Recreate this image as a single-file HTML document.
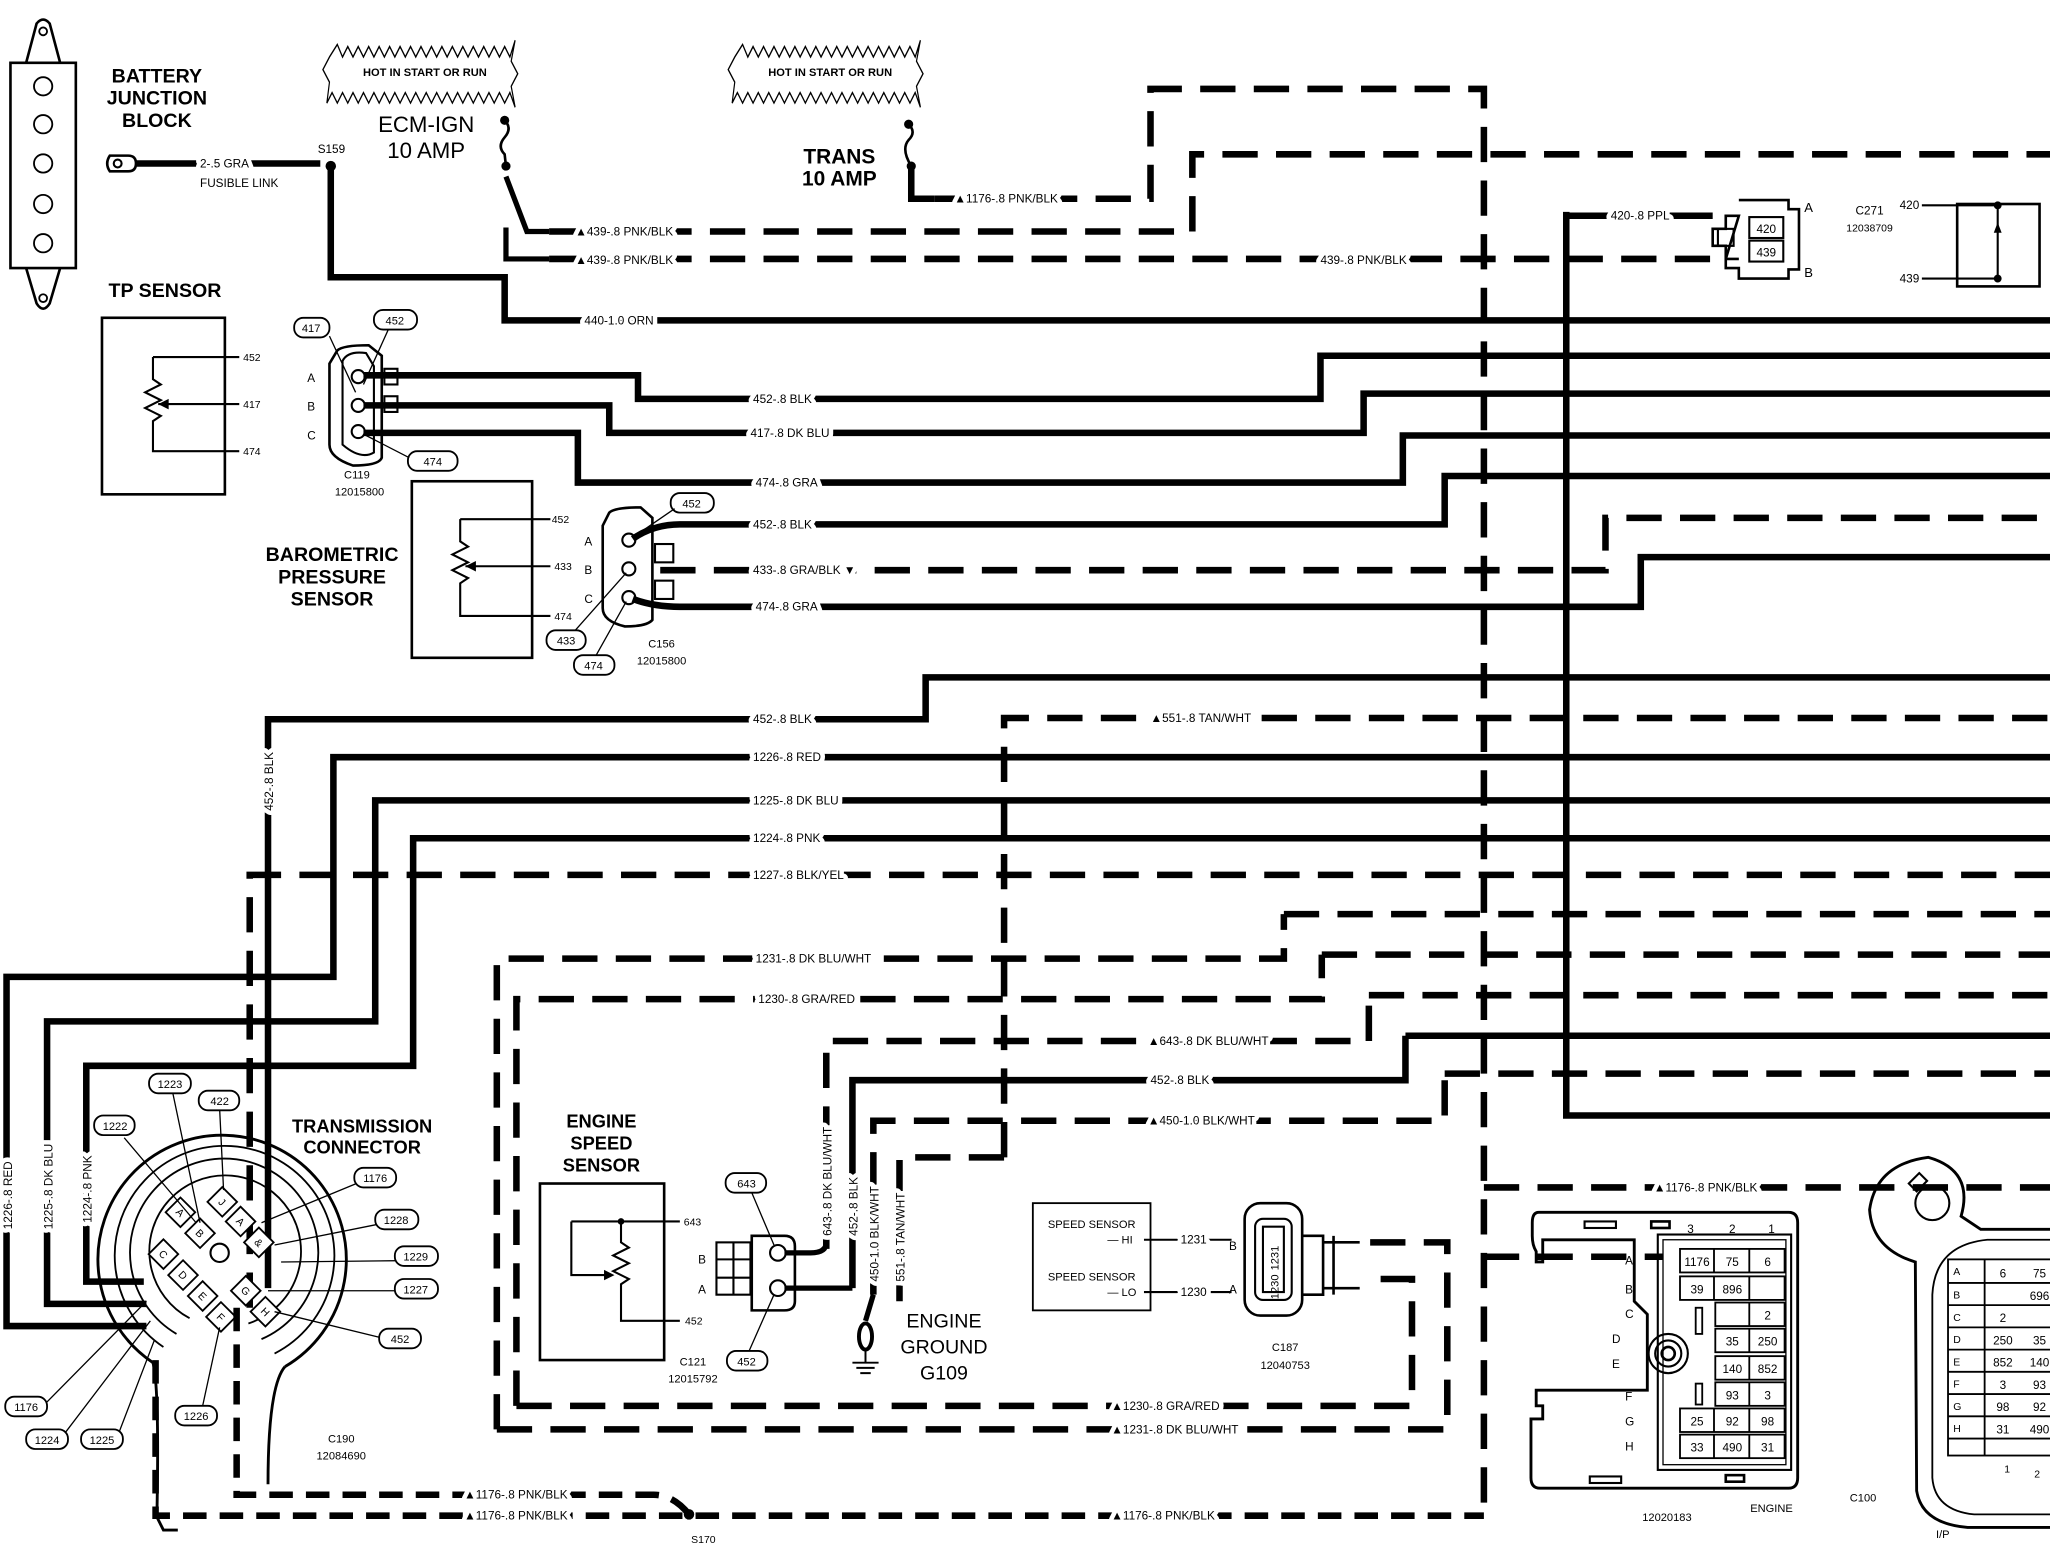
<!DOCTYPE html>
<html><head><meta charset="utf-8"><style>
html,body{margin:0;padding:0;background:#fff;}
svg{display:block;}
text{font-family:"Liberation Sans",sans-serif;fill:#000;}
.w{fill:none;stroke:#000;stroke-width:5;stroke-linejoin:miter;}
.d{fill:none;stroke:#000;stroke-width:5;stroke-dasharray:27 14;}
.t{fill:none;stroke:#000;stroke-width:1.6;}
.lb{font-size:9px;paint-order:stroke;stroke:#fff;stroke-width:7px;stroke-linejoin:round;}
.sm{font-size:9px;}
.b{font-weight:bold;}
.bub{fill:#fff;stroke:#000;stroke-width:1.4;}
</style></head><body>
<svg width="2050" height="1568" viewBox="0 0 1568 1199" preserveAspectRatio="none" xmlns="http://www.w3.org/2000/svg">
<rect width="1568" height="1199" fill="#fff"/>

<!-- Battery junction block -->
<path class="t" style="stroke-width:2" d="M8,48 L58,48 L58,205 L8,205 Z M20,48 L28,18 Q33,12 38,18 L46,48 M20,205 L28,232 Q33,240 38,232 L46,205"/>
<g class="t" style="stroke-width:1.4"><circle cx="33" cy="66" r="7"/><circle cx="33" cy="95" r="7"/><circle cx="33" cy="125" r="7"/><circle cx="33" cy="156" r="7"/><circle cx="33" cy="186" r="7"/><circle cx="33" cy="24" r="3"/><circle cx="33" cy="228" r="3"/></g>
<g class="b" font-size="15" text-anchor="middle"><text x="120" y="63">BATTERY</text><text x="120" y="80">JUNCTION</text><text x="120" y="97">BLOCK</text></g>
<text class="b" x="83" y="227" font-size="15">TP SENSOR</text>

<!-- fusible link -->
<path class="t" style="stroke-width:2" d="M84,119 h14 q6,0 6,6 q0,6 -6,6 h-14 q-4,-6 0,-12Z"/>
<circle cx="90" cy="125" r="3" class="t"/>
<path class="w" d="M104,125 H245"/>
<text class="lb" x="153" y="128">2-.5 GRA</text>
<text class="sm" x="153" y="143" font-size="8">FUSIBLE LINK</text>
<text class="sm" x="243" y="117" font-size="8">S159</text>
<circle cx="253" cy="127" r="4"/>
<path class="w" d="M253,127 V212 H386 V245 H1568"/>
<text class="lb" x="447" y="248">440-1.0 ORN</text>

<!-- hot bubbles -->
<g transform="translate(0,34) scale(1,1.6) translate(0,-37)">
<path class="t" style="stroke-width:0.9" d="M258,37 l4,6 l4,-5 l4,5 l4,-5 l4,5 l4,-5 l4,5 l4,-5 l4,5 l4,-5 l4,5 l4,-5 l4,5 l4,-5 l4,5 l4,-5 l4,5 l4,-5 l4,5 l4,-5 l4,5 l4,-5 l4,5 l4,-5 l4,5 l4,-5 l4,5 l4,-5 l4,5 l4,-5 l4,5 l4,-5 l4,5 l4,-8 l-3,10 l5,6 l-5,6 l3,10 l-4,-7 l-4,5 l-4,-5 l-4,5 l-4,-5 l-4,5 l-4,-5 l-4,5 l-4,-5 l-4,5 l-4,-5 l-4,5 l-4,-5 l-4,5 l-4,-5 l-4,5 l-4,-5 l-4,5 l-4,-5 l-4,5 l-4,-5 l-4,5 l-4,-5 l-4,5 l-4,-5 l-4,5 l-4,-5 l-4,5 l-4,-5 l-4,5 l-4,-5 l-4,5 l-4,-5 l-4,5 l-4,-5 l-4,5 l2,-10 l-5,-6 l5,-6 Z"/>
<path class="t" style="stroke-width:0.9" d="M568,37 l4,6 l4,-5 l4,5 l4,-5 l4,5 l4,-5 l4,5 l4,-5 l4,5 l4,-5 l4,5 l4,-5 l4,5 l4,-5 l4,5 l4,-5 l4,5 l4,-5 l4,5 l4,-5 l4,5 l4,-5 l4,5 l4,-5 l4,5 l4,-5 l4,5 l4,-5 l4,5 l4,-5 l4,5 l4,-5 l4,5 l4,-8 l-3,10 l5,6 l-5,6 l3,10 l-4,-7 l-4,5 l-4,-5 l-4,5 l-4,-5 l-4,5 l-4,-5 l-4,5 l-4,-5 l-4,5 l-4,-5 l-4,5 l-4,-5 l-4,5 l-4,-5 l-4,5 l-4,-5 l-4,5 l-4,-5 l-4,5 l-4,-5 l-4,5 l-4,-5 l-4,5 l-4,-5 l-4,5 l-4,-5 l-4,5 l-4,-5 l-4,5 l-4,-5 l-4,5 l-4,-5 l-4,5 l-4,-5 l-4,5 l2,-10 l-5,-6 l5,-6 Z"/>
</g>
<text x="325" y="58" font-size="8.5" text-anchor="middle" class="b">HOT IN START OR RUN</text>
<text x="635" y="58" font-size="8.5" text-anchor="middle" class="b">HOT IN START OR RUN</text>

<!-- ECM-IGN fuse -->
<text x="326" y="101" font-size="17" text-anchor="middle">ECM-IGN</text>
<text x="326" y="121" font-size="17" text-anchor="middle">10 AMP</text>
<circle cx="386" cy="92" r="3.5"/><circle cx="387" cy="127" r="3.5"/>
<path class="t" style="stroke-width:2" d="M386,92 q6,6 0,13 q-6,7 0,13 l1,9"/>
<path class="w" style="stroke-width:4" d="M387,135 L403,177 H420"/>
<path class="w" style="stroke-width:4" d="M387,174 V198 H420"/>
<path class="d" d="M420,177 H912 V118 H1568"/>
<path class="d" d="M420,198 H1310"/>
<text class="lb" x="440" y="180">▲439-.8 PNK/BLK</text>
<text class="lb" x="440" y="202">▲439-.8 PNK/BLK</text>
<text class="lb" x="1010" y="202">439-.8 PNK/BLK</text>

<!-- TRANS fuse -->
<text class="b" x="642" y="125" font-size="16" text-anchor="middle">TRANS</text>
<text class="b" x="642" y="142" font-size="16" text-anchor="middle">10 AMP</text>
<circle cx="695" cy="95" r="3.5"/><circle cx="697" cy="127" r="3.5"/>
<path class="t" style="stroke-width:2" d="M695,95 q6,6 0,12 q-6,7 2,20"/>
<path class="w" d="M697,127 V152 H715"/>
<path class="d" d="M715,152 H880 V68 H1135 V1162"/>
<text class="lb" x="730" y="155">▲1176-.8 PNK/BLK</text>

<!-- C271 -->
<path class="w" d="M1198,165 H1310"/>
<text class="lb" x="1232" y="168">420-.8 PPL</text>
<path class="w" d="M1198,162 V853 H1568"/>
<path class="t" style="stroke-width:2" d="M1330,153 H1368 V160 H1376 V206 H1368 V213 H1330 V205 H1320 V198 H1330 M1320,198 V188 H1310 V175 H1320 V165 H1330 Z"/>
<rect x="1314" y="175" width="12" height="13" class="t"/>
<rect x="1338" y="166" width="26" height="16" class="t"/><rect x="1338" y="184" width="26" height="16" class="t"/>
<text x="1351" y="178" font-size="9" text-anchor="middle">420</text><text x="1351" y="196" font-size="9" text-anchor="middle">439</text>
<text x="1380" y="162" font-size="10">A</text><text x="1380" y="212" font-size="10">B</text>
<text x="1430" y="164" font-size="9" text-anchor="middle">C271</text><text x="1430" y="177" font-size="8" text-anchor="middle">12038709</text>
<rect x="1497" y="156" width="63" height="63" class="t" style="stroke-width:2"/>
<text x="1453" y="160" font-size="9">420</text><text x="1453" y="216" font-size="9">439</text>
<path class="t" d="M1470,157 H1528 V213 H1470"/><circle cx="1528" cy="157" r="3"/><circle cx="1528" cy="213" r="3"/>
<path d="M1528,170 l-3,8 h6z"/>

<!-- TP sensor -->
<rect x="78" y="243" width="94" height="135" class="t" style="stroke-width:2"/>
<path class="t" d="M117,273 H183 M117,273 V290 l6,4 l-12,6 l12,6 l-12,6 l12,6 l-6,4 V345 H183 M121,309 H183"/>
<path d="M121,309 l8,-4 v8z"/>
<text x="186" y="276" font-size="8">452</text><text x="186" y="312" font-size="8">417</text><text x="186" y="348" font-size="8">474</text>
<!-- C119 -->
<path class="t" style="stroke-width:2" d="M258,268 Q262,264 282,264 L292,272 V350 Q290,356 270,356 Q252,350 252,340 V278 Z"/>
<path class="t" d="M262,276 Q266,268 280,270 L286,280 V346 Q276,352 262,340 Z"/>
<circle cx="274" cy="288" r="5" class="t"/><circle cx="274" cy="310" r="5" class="t"/><circle cx="274" cy="330" r="5" class="t"/>
<rect x="294" y="282" width="10" height="12" class="t"/><rect x="294" y="303" width="10" height="12" class="t"/>
<text x="235" y="292" font-size="9">A</text><text x="235" y="314" font-size="9">B</text><text x="235" y="336" font-size="9">C</text>
<rect x="225" y="243" width="27" height="15" rx="7" class="bub"/><text x="238" y="254" font-size="8.5" text-anchor="middle">417</text>
<rect x="286" y="237" width="33" height="15" rx="7" class="bub"/><text x="302" y="248" font-size="8.5" text-anchor="middle">452</text>
<rect x="312" y="345" width="38" height="15" rx="7" class="bub"/><text x="331" y="356" font-size="8.5" text-anchor="middle">474</text>
<path class="t" style="stroke-width:1" d="M252,257 L272,300 M297,252 L278,294 M313,350 L280,333"/>
<text x="273" y="366" font-size="8.5" text-anchor="middle">C119</text><text x="275" y="379" font-size="8.5" text-anchor="middle">12015800</text>
<path class="w" d="M278,287 H488 V305 H1010 V272 H1568"/>
<path class="w" d="M278,310 H466 V331 H1043 V301 H1568"/>
<path class="w" d="M278,331 H442 V369 H1073 V333 H1568"/>
<text class="lb" x="576" y="308">452-.8 BLK</text>
<text class="lb" x="574" y="334">417-.8 DK BLU</text>
<text class="lb" x="578" y="372">474-.8 GRA</text>

<!-- Barometric -->
<g class="b" font-size="15" text-anchor="middle"><text x="254" y="429">BAROMETRIC</text><text x="254" y="446">PRESSURE</text><text x="254" y="463">SENSOR</text></g>
<rect x="315" y="368" width="92" height="135" class="t" style="stroke-width:2"/>
<path class="t" d="M352,397 H421 M352,397 V414 l6,4 l-12,6 l12,6 l-12,6 l12,6 l-6,4 V471 H421 M356,433 H421"/>
<path d="M356,433 l8,-4 v8z"/>
<text x="422" y="400" font-size="8">452</text><text x="424" y="436" font-size="8">433</text><text x="424" y="474" font-size="8">474</text>
<path class="t" style="stroke-width:2" d="M466,392 Q470,388 490,388 L499,396 V474 Q495,479 478,479 Q461,475 461,465 V402 Z"/>
<circle cx="481" cy="413" r="5" class="t"/><circle cx="481" cy="435" r="5" class="t"/><circle cx="481" cy="457" r="5" class="t"/>
<rect x="501" y="416" width="14" height="14" class="t"/><rect x="501" y="444" width="14" height="14" class="t"/>
<text x="447" y="417" font-size="9">A</text><text x="447" y="439" font-size="9">B</text><text x="447" y="461" font-size="9">C</text>
<rect x="513" y="377" width="33" height="15" rx="7" class="bub"/><text x="529" y="388" font-size="8.5" text-anchor="middle">452</text>
<rect x="418" y="482" width="30" height="15" rx="7" class="bub"/><text x="433" y="493" font-size="8.5" text-anchor="middle">433</text>
<rect x="439" y="501" width="31" height="15" rx="7" class="bub"/><text x="454" y="512" font-size="8.5" text-anchor="middle">474</text>
<path class="t" style="stroke-width:1" d="M516,389 L484,411 M440,482 L479,438 M456,501 L479,460"/>
<text x="506" y="495" font-size="8.5" text-anchor="middle">C156</text><text x="506" y="508" font-size="8.5" text-anchor="middle">12015800</text>
<path class="w" d="M484,412 Q500,401 520,401 H1105 V364 H1568"/>
<path class="d" d="M505,436 H1228 V396 H1568"/>
<path class="w" d="M484,458 Q500,464 520,464 H1255 V426 H1568"/>
<text class="lb" x="576" y="404">452-.8 BLK</text>
<text class="lb" x="576" y="439">433-.8 GRA/BLK ▼</text>
<text class="lb" x="578" y="467">474-.8 GRA</text>

<!-- Transmission wires -->
<path class="w" d="M205,985 V550 H708 V518 H1568"/>
<text class="lb" x="576" y="553">452-.8 BLK</text>
<text class="lb" transform="translate(209,620) rotate(-90)">452-.8 BLK</text>
<path class="d" d="M768,885 V549 H1568"/>
<path class="d" d="M768,885 H688 V995"/>
<text class="lb" x="880" y="552">▲551-.8 TAN/WHT</text>
<path class="w" d="M112,1014 H5 V747 H255 V579 H1568"/>
<path class="w" d="M112,997 H36 V781 H287 V612 H1568"/>
<path class="w" d="M110,980 H66 V815 H316 V641 H1568"/>
<path class="d" d="M191,1000 V669 H1568"/>
<text class="lb" x="576" y="582">1226-.8 RED</text>
<text class="lb" x="576" y="615">1225-.8 DK BLU</text>
<text class="lb" x="576" y="644">1224-.8 PNK</text>
<text class="lb" x="576" y="672">1227-.8 BLK/YEL</text>
<text class="lb" transform="translate(9,940) rotate(-90)">1226-.8 RED</text>
<text class="lb" transform="translate(40,940) rotate(-90)">1225-.8 DK BLU</text>
<text class="lb" transform="translate(70,935) rotate(-90)">1224-.8 PNK</text>

<!-- Transmission connector -->
<g class="t" style="stroke-width:2.2">
<path d="M117,1042 A95,95 0 1 1 218,1045"/>
<path style="stroke-width:1.4" d="M125,1030 A84,84 0 1 1 210,1035"/>
<path style="stroke-width:1.4" d="M135,1020 A72,72 0 1 1 200,1024"/>
<path style="stroke-width:1.4" d="M145,1008 A58,58 0 1 1 190,1012"/>
<path d="M117,1042 Q122,1060 120,1160 M218,1045 Q205,1060 205,1135"/>
<path d="M120,1160 L125,1170 H136"/>
</g>
<circle cx="168" cy="958" r="7" class="t"/>
<g font-size="8" text-anchor="middle">
<g transform="translate(138,927) rotate(45)"><rect x="-8" y="-8" width="16" height="16" class="bub"/><text y="3">A</text></g>
<g transform="translate(153,943) rotate(45)"><rect x="-8" y="-8" width="16" height="16" class="bub"/><text y="3">B</text></g>
<g transform="translate(170,919) rotate(45)"><rect x="-8" y="-8" width="16" height="16" class="bub"/><text y="3">J</text></g>
<g transform="translate(184,934) rotate(45)"><rect x="-8" y="-8" width="16" height="16" class="bub"/><text y="3">A</text></g>
<g transform="translate(198,950) rotate(45)"><rect x="-8" y="-8" width="16" height="16" class="bub"/><text y="3">&amp;</text></g>
<g transform="translate(188,987) rotate(45)"><rect x="-8" y="-8" width="16" height="16" class="bub"/><text y="3">G</text></g>
<g transform="translate(203,1003) rotate(45)"><rect x="-8" y="-8" width="16" height="16" class="bub"/><text y="3">H</text></g>
<g transform="translate(125,959) rotate(45)"><rect x="-8" y="-8" width="16" height="16" class="bub"/><text y="3">C</text></g>
<g transform="translate(140,975) rotate(45)"><rect x="-8" y="-8" width="16" height="16" class="bub"/><text y="3">D</text></g>
<g transform="translate(155,991) rotate(45)"><rect x="-8" y="-8" width="16" height="16" class="bub"/><text y="3">E</text></g>
<g transform="translate(169,1007) rotate(45)"><rect x="-8" y="-8" width="16" height="16" class="bub"/><text y="3">F</text></g>
</g>
<path class="d" style="stroke-dasharray:18 10" d="M181,1000 V1143 H500 Q515,1143 527,1158"/>
<path class="d" style="stroke-dasharray:18 10" d="M119,1040 V1159 H1135"/>
<circle cx="527" cy="1158" r="4"/>
<text x="538" y="1180" font-size="8" text-anchor="middle">S170</text>
<text class="lb" x="355" y="1146">▲1176-.8 PNK/BLK</text>
<text class="lb" x="355" y="1162">▲1176-.8 PNK/BLK</text>
<text class="lb" x="850" y="1162">▲1176-.8 PNK/BLK</text>
<g class="t" style="stroke-width:1">
<path d="M95,870 L150,935 M132,835 L153,935 M168,848 L171,910 M275,904 L200,935 M290,936 L210,952 M305,964 L215,965 M305,987 L205,987 M292,1023 L210,1003 M35,1073 L112,995 M48,1098 L115,1010 M90,1098 L118,1025 M155,1075 L168,1015"/>
</g>
<g font-size="8.5" text-anchor="middle">
<rect x="72" y="853" width="31" height="15" rx="7" class="bub"/><text x="88" y="864">1222</text>
<rect x="114" y="821" width="32" height="15" rx="7" class="bub"/><text x="130" y="832">1223</text>
<rect x="152" y="834" width="31" height="15" rx="7" class="bub"/><text x="168" y="845">422</text>
<rect x="271" y="893" width="32" height="15" rx="7" class="bub"/><text x="287" y="904">1176</text>
<rect x="287" y="925" width="33" height="15" rx="7" class="bub"/><text x="303" y="936">1228</text>
<rect x="302" y="953" width="33" height="15" rx="7" class="bub"/><text x="318" y="964">1229</text>
<rect x="302" y="978" width="33" height="15" rx="7" class="bub"/><text x="318" y="989">1227</text>
<rect x="290" y="1016" width="32" height="15" rx="7" class="bub"/><text x="306" y="1027">452</text>
<rect x="4" y="1068" width="32" height="15" rx="7" class="bub"/><text x="20" y="1079">1176</text>
<rect x="20" y="1093" width="32" height="15" rx="7" class="bub"/><text x="36" y="1104">1224</text>
<rect x="62" y="1093" width="32" height="15" rx="7" class="bub"/><text x="78" y="1104">1225</text>
<rect x="134" y="1075" width="32" height="15" rx="7" class="bub"/><text x="150" y="1086">1226</text>
</g>
<g class="b" font-size="14" text-anchor="middle"><text x="277" y="866">TRANSMISSION</text><text x="277" y="882">CONNECTOR</text></g>
<text x="261" y="1103" font-size="8.5" text-anchor="middle">C190</text><text x="261" y="1116" font-size="8.5" text-anchor="middle">12084690</text>

<!-- speed sensor loops -->
<path class="d" d="M982,699 H1568"/>
<path class="d" d="M380,1093 V733 H982 V699"/>
<path class="d" d="M1011,730 H1568"/>
<path class="d" d="M395,1075 V764 H1011 V730"/>
<path class="d" d="M1047,761 H1568"/>
<path class="d" d="M632,955 V796 H1047 V761"/>
<path class="w" d="M1075,792 H1568"/>
<path class="w" d="M652,985 V826 H1075 V792"/>
<path class="d" d="M1105,821 H1568"/>
<path class="d" d="M668,990 V857 H1105 V821"/>
<path class="d" d="M1135,908 H1568"/>
<path class="d" d="M1135,961 H1272"/>
<text class="lb" x="578" y="736">1231-.8 DK BLU/WHT</text>
<text class="lb" x="580" y="767">1230-.8 GRA/RED</text>
<text class="lb" x="878" y="799">▲643-.8 DK BLU/WHT</text>
<text class="lb" x="880" y="829">452-.8 BLK</text>
<text class="lb" x="878" y="860">▲450-1.0 BLK/WHT</text>
<text class="lb" x="1265" y="911">▲1176-.8 PNK/BLK</text>
<text class="lb" transform="translate(636,945) rotate(-90)">643-.8 DK BLU/WHT</text>
<text class="lb" transform="translate(656,945) rotate(-90)">452-.8 BLK</text>
<text class="lb" transform="translate(672,980) rotate(-90)">450-1.0 BLK/WHT</text>
<text class="lb" transform="translate(692,980) rotate(-90)">551-.8 TAN/WHT</text>
<path class="d" d="M395,1075 H1080 V978 H1045"/>
<path class="d" d="M380,1093 H1107 V950 H1045"/>
<text class="lb" x="850" y="1078">▲1230-.8 GRA/RED</text>
<text class="lb" x="850" y="1096">▲1231-.8 DK BLU/WHT</text>

<!-- Engine speed sensor -->
<g class="b" font-size="14" text-anchor="middle"><text x="460" y="862">ENGINE</text><text x="460" y="879">SPEED</text><text x="460" y="896">SENSOR</text></g>
<rect x="413" y="905" width="95" height="135" class="t" style="stroke-width:2"/>
<path class="t" d="M437,934 H520 M475,934 V950 l6,4 l-12,6 l12,6 l-12,6 l12,6 l-6,4 V1010 H520 M437,934 V975 H468"/>
<path d="M470,975 l-8,-4 v8z"/><circle cx="475" cy="934" r="2.5"/>
<text x="523" y="937" font-size="8">643</text><text x="524" y="1013" font-size="8">452</text>
<path class="t" style="stroke-width:2" d="M575,945 H600 Q608,945 608,953 V995 Q608,1002 600,1002 H575 Z"/>
<rect x="548" y="950" width="26" height="40" class="t"/>
<path class="t" d="M548,963 H574 M548,977 H574 M561,950 V990"/>
<circle cx="595" cy="958" r="6" class="t"/><circle cx="595" cy="985" r="6" class="t"/>
<path class="w" style="stroke-width:4" d="M600,958 H620 Q632,958 632,950"/>
<path class="w" style="stroke-width:4" d="M600,985 H652"/>
<text x="534" y="966" font-size="9">B</text><text x="534" y="989" font-size="9">A</text>
<rect x="555" y="897" width="31" height="15" rx="7" class="bub"/><text x="571" y="908" font-size="8.5" text-anchor="middle">643</text>
<rect x="556" y="1033" width="31" height="15" rx="7" class="bub"/><text x="571" y="1044" font-size="8.5" text-anchor="middle">452</text>
<path class="t" style="stroke-width:1" d="M575,912 L592,952 M573,1033 L592,990"/>
<text x="530" y="1044" font-size="8.5" text-anchor="middle">C121</text><text x="530" y="1057" font-size="8.5" text-anchor="middle">12015792</text>
<!-- ground -->
<path class="w" style="stroke-width:4" d="M668,990 L662,1010"/>
<ellipse cx="662" cy="1022" rx="5" ry="10" class="t" style="stroke-width:3"/>
<path class="t" style="stroke-width:1.5" d="M662,1032 V1042 M652,1042 H672 M655,1046 H669 M658,1050 H666"/>
<g font-size="15" text-anchor="middle"><text x="722" y="1015">ENGINE</text><text x="722" y="1035">GROUND</text><text x="722" y="1055">G109</text></g>

<!-- speed sensor box / C187 -->
<rect x="790" y="920" width="90" height="82" class="t" style="stroke-width:1.4"/>
<text x="835" y="939" font-size="8.5" text-anchor="middle">SPEED SENSOR</text><text x="847" y="951" font-size="8.5">— HI</text>
<text x="835" y="979" font-size="8.5" text-anchor="middle">SPEED SENSOR</text><text x="847" y="991" font-size="8.5">— LO</text>
<path class="t" d="M875,948 H942 M875,988 H942"/>
<text class="lb" x="903" y="951">1231</text><text class="lb" x="903" y="991">1230</text>
<rect x="952" y="920" width="44" height="86" rx="12" class="t" style="stroke-width:2"/>
<rect x="960" y="932" width="28" height="62" rx="6" class="t"/>
<rect x="966" y="938" width="16" height="50" class="t"/>
<text transform="translate(978,962) rotate(-90)" font-size="8.5" text-anchor="middle">1231</text>
<text transform="translate(978,984) rotate(-90)" font-size="8.5" text-anchor="middle">1230</text>
<path class="t" style="stroke-width:2" d="M996,945 H1012 V990 H996 M1012,950 H1040 M1012,985 H1040 M1020,945 V990"/>
<text x="940" y="956" font-size="9">B</text><text x="940" y="989" font-size="9">A</text>
<text x="983" y="1033" font-size="8.5" text-anchor="middle">C187</text><text x="983" y="1047" font-size="8.5" text-anchor="middle">12040753</text>

<!-- C100 engine -->
<path class="t" style="stroke-width:2.2" d="M1177,927 H1368 Q1375,927 1375,935 V1130 Q1375,1138 1368,1138 H1178 Q1171,1138 1171,1130 V1085 H1180 V1075 H1175 V1063 H1260 V1005 L1250,995 V948 H1180 V965 H1175 V957 Q1172,952 1172,945 V935 Q1172,927 1177,927 Z"/>
<rect x="1268" y="944" width="102" height="180" class="t"/>
<rect x="1272" y="948" width="94" height="172" class="t" style="stroke-width:1"/>
<circle cx="1276" cy="1035" r="15" class="t"/><circle cx="1276" cy="1035" r="10" class="t"/><circle cx="1276" cy="1035" r="5" class="t" style="stroke-width:2"/>
<rect x="1212" y="934" width="24" height="5" class="t"/><rect x="1263" y="934" width="14" height="5" class="t" style="stroke-width:2"/>
<rect x="1216" y="1129" width="24" height="5" class="t"/><rect x="1320" y="1128" width="14" height="5" class="t" style="stroke-width:2"/>
<text x="1293" y="943" font-size="9" text-anchor="middle">3</text><text x="1325" y="943" font-size="9" text-anchor="middle">2</text><text x="1355" y="943" font-size="9" text-anchor="middle">1</text>
<g font-size="9"><text x="1243" y="967">A</text><text x="1243" y="989">B</text><text x="1243" y="1008">C</text><text x="1233" y="1027">D</text><text x="1233" y="1046">E</text><text x="1243" y="1071">F</text><text x="1243" y="1090">G</text><text x="1243" y="1109">H</text></g>
<g class="t" style="stroke-width:1.4">
<rect x="1285" y="955" width="80" height="18"/><path d="M1311,955 V973 M1338,955 V973"/>
<rect x="1285" y="976" width="80" height="18"/><path d="M1311,976 V994 M1338,976 V994"/>
<rect x="1312" y="996" width="53" height="18"/><path d="M1338,996 V1014"/>
<rect x="1312" y="1016" width="53" height="18"/><path d="M1338,1016 V1034"/>
<rect x="1312" y="1037" width="53" height="18"/><path d="M1338,1037 V1055"/>
<rect x="1312" y="1057" width="53" height="18"/><path d="M1338,1057 V1075"/>
<rect x="1285" y="1077" width="80" height="18"/><path d="M1311,1077 V1095 M1338,1077 V1095"/>
<rect x="1285" y="1097" width="80" height="18"/><path d="M1311,1097 V1115 M1338,1097 V1115"/>
<rect x="1297" y="1000" width="5" height="20"/><rect x="1297" y="1058" width="5" height="16"/>
</g>
<g font-size="9" text-anchor="middle">
<text x="1298" y="968">1176</text><text x="1325" y="968">75</text><text x="1352" y="968">6</text>
<text x="1298" y="989">39</text><text x="1325" y="989">896</text>
<text x="1352" y="1009">2</text>
<text x="1325" y="1029">35</text><text x="1352" y="1029">250</text>
<text x="1325" y="1050">140</text><text x="1352" y="1050">852</text>
<text x="1325" y="1070">93</text><text x="1352" y="1070">3</text>
<text x="1298" y="1090">25</text><text x="1325" y="1090">92</text><text x="1352" y="1090">98</text>
<text x="1298" y="1110">33</text><text x="1325" y="1110">490</text><text x="1352" y="1110">31</text>
</g>
<text x="1275" y="1163" font-size="8.5" text-anchor="middle">12020183</text>
<text x="1355" y="1156" font-size="8.5" text-anchor="middle">ENGINE</text>
<text x="1425" y="1148" font-size="8.5" text-anchor="middle">C100</text>

<!-- C100 I/P -->
<path class="t" style="stroke-width:2.2" d="M1568,940 H1515 L1500,930 Q1510,895 1475,885 Q1435,890 1430,925 Q1432,955 1465,965 L1466,1140 Q1470,1165 1505,1168 H1568"/>
<path class="t" style="stroke-width:1.4" d="M1568,948 H1520 Q1480,952 1478,990 V1130 Q1480,1155 1510,1158 H1568"/>
<circle cx="1478" cy="920" r="13" class="t"/>
<path class="t" d="M1460,905 l8,-8 l6,6 l-8,8z"/>
<g class="t" style="stroke-width:1.4">
<rect x="1490" y="963" width="90" height="150"/>
<path d="M1518,963 V1113 M1490,981 H1568 M1490,998 H1568 M1490,1015 H1568 M1490,1032 H1568 M1490,1049 H1568 M1490,1066 H1568 M1490,1083 H1568 M1490,1100 H1568"/>
</g>
<g font-size="9"><text x="1494" y="975" font-size="8">A</text><text x="1494" y="993" font-size="8">B</text><text x="1494" y="1010" font-size="8">C</text><text x="1494" y="1027" font-size="8">D</text><text x="1494" y="1044" font-size="8">E</text><text x="1494" y="1061" font-size="8">F</text><text x="1494" y="1078" font-size="8">G</text><text x="1494" y="1095" font-size="8">H</text></g>
<g font-size="9" text-anchor="middle">
<text x="1532" y="977">6</text><text x="1560" y="977">75</text>
<text x="1560" y="994">696</text>
<text x="1532" y="1011">2</text>
<text x="1532" y="1028">250</text><text x="1560" y="1028">35</text>
<text x="1532" y="1045">852</text><text x="1560" y="1045">140</text>
<text x="1532" y="1062">3</text><text x="1560" y="1062">93</text>
<text x="1532" y="1079">98</text><text x="1560" y="1079">92</text>
<text x="1532" y="1096">31</text><text x="1560" y="1096">490</text>
</g>
<text x="1533" y="1126" font-size="8">1</text><text x="1556" y="1130" font-size="8">2</text>
<text x="1486" y="1176" font-size="8.5" text-anchor="middle">I/P</text>
</svg>
</body></html>
